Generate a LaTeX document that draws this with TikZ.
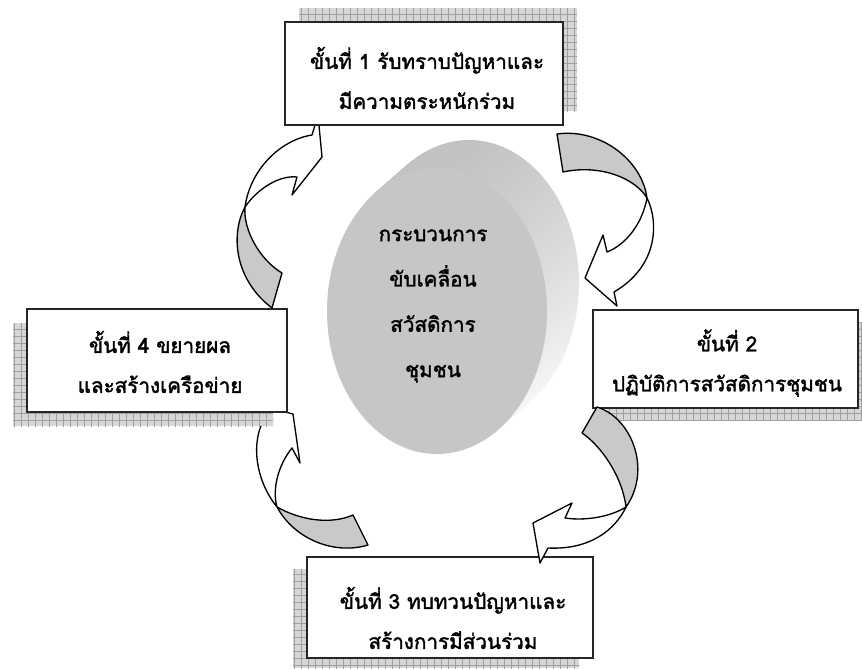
\documentclass[tikz,border=0pt]{standalone}
\usepackage{fontspec}
\newfontfamily\thaifont[Script=Thai,FakeBold=1.8]{Loma}
\tikzset{
  gridshadow/.style={fill=gray!32},
  gridlines/.style={draw=gray!75, line width=0.35pt},
  stepbox/.style={draw=black!85, fill=white, line width=1.2pt},
  steptext/.style={align=center, inner sep=0.75pt, font=\thaifont\fontsize{15.5}{30}\selectfont},
  coretext/.style={align=center, inner sep=0.75pt, font=\thaifont\fontsize{15.5}{34}\selectfont},
  backband/.style={draw=black, fill=gray!42, line width=1pt, line join=round},
  frontband/.style={draw=black, fill=white, line width=1pt, line join=round},
}
\begin{document}
\begin{tikzpicture}[x=0.75pt,y=0.75pt,yscale=-1,xscale=1]
\useasboundingbox (0,0) rectangle (862,668);

%Shape: Disc (side)
\foreach \k in {16,15,...,1}{
  \pgfmathsetmacro\cx{437+\k*2}
  \pgfmathsetmacro\cy{311-\k*1.75}
  \shade[top color=gray!48, bottom color=gray!6, shading angle=20] (\cx,\cy) ellipse (110 and 143);
}
%Shape: Disc (front face)
\fill[gray!45] (437,311) ellipse (110 and 143);
% Text Node
\node[coretext] (core) at (433,306) {กระบวนการ\\ขับเคลื่อน\\สวัสดิการ\\ชุมชน};

%Curved Arrow: step 3 -> step 4
\draw[backband] (277,507) .. controls (300,520) and (330,525) .. (353,515) -- (368,545) .. controls (335,555) and (295,540) .. (277,507) -- cycle ;
\draw[frontband] (277,507) .. controls (255,480) and (250,440) .. (266,416) -- (258,405) -- (293,414) -- (300,463) -- (292,448) .. controls (278,465) and (272,490) .. (277,507) -- cycle ;
%Curved Arrow: step 4 -> step 1
\draw[backband] (272,308) .. controls (235,280) and (230,235) .. (245,207) .. controls (243,230) and (260,260) .. (282,273) -- cycle ;
\draw[frontband] (245,207) .. controls (250,170) and (280,140) .. (312,135) -- (318,115) -- (322,157) -- (292,195) -- (297,177) .. controls (280,175) and (258,188) .. (245,207) -- cycle ;
%Curved Arrow: step 1 -> step 2
\draw[backband] (557,134) .. controls (600,128) and (642,160) .. (647,198) .. controls (635,178) and (600,164) .. (563,172) -- cycle ;
\draw[frontband] (647,198) .. controls (658,220) and (660,265) .. (614,292) -- (617,306) -- (585,278) -- (603,235) -- (607,252) .. controls (625,245) and (642,225) .. (647,198) -- cycle ;

%Shape: Step 1 box
\fill[gridshadow] (299,8) rectangle (577,111);
\begin{scope}
  \clip (299,8) rectangle (577,111);
  \draw[gridlines, step=7] (294,0) grid (580,115);
\end{scope}
\draw[stepbox] (285,22) rectangle (563,125);
% Text Node
\node[steptext] (step1) at (427,78) {ขั้นที่ 1 รับทราบปัญหาและ\\มีความตระหนักร่วม};

%Shape: Step 2 box
\fill[gridshadow] (607,322) rectangle (862,420);
\begin{scope}
  \clip (607,322) rectangle (862,420);
  \draw[gridlines, step=7] (600,315) grid (866,427);
\end{scope}
\draw[stepbox] (593,310) rectangle (858,408);
% Text Node
\node[steptext] (step2) at (727,363) {ขั้นที่ 2\\ปฏิบัติการสวัสดิการชุมชน};

%Shape: Step 3 box
\fill[gridshadow] (293,569) rectangle (579,668);
\begin{scope}
  \clip (293,569) rectangle (579,668);
  \draw[gridlines, step=7] (287,567) grid (581,672);
\end{scope}
\draw[stepbox] (307,557) rectangle (593,658);
% Text Node
\node[steptext] (step3) at (453,618) {ขั้นที่ 3 ทบทวนปัญหาและ\\สร้างการมีส่วนร่วม};

%Shape: Step 4 box
\fill[gridshadow] (13,323) rectangle (273,426);
\begin{scope}
  \clip (13,323) rectangle (273,426);
  \draw[gridlines, step=7] (7,322) grid (280,427);
\end{scope}
\draw[stepbox] (27,309) rectangle (287,412);
% Text Node
\node[steptext] (step4) at (160,362) {ขั้นที่ 4 ขยายผล\\และสร้างเครือข่าย};

%Curved Arrow: step 2 -> step 3
\draw[backband] (597,407) .. controls (632,418) and (652,470) .. (626,507) .. controls (622,475) and (600,445) .. (582,433) -- cycle ;
\draw[frontband] (626,507) .. controls (615,530) and (590,550) .. (548,548) -- (540,563) -- (533,523) -- (572,503) -- (565,518) .. controls (585,521) and (610,517) .. (626,507) -- cycle ;
\end{tikzpicture}
\end{document}
